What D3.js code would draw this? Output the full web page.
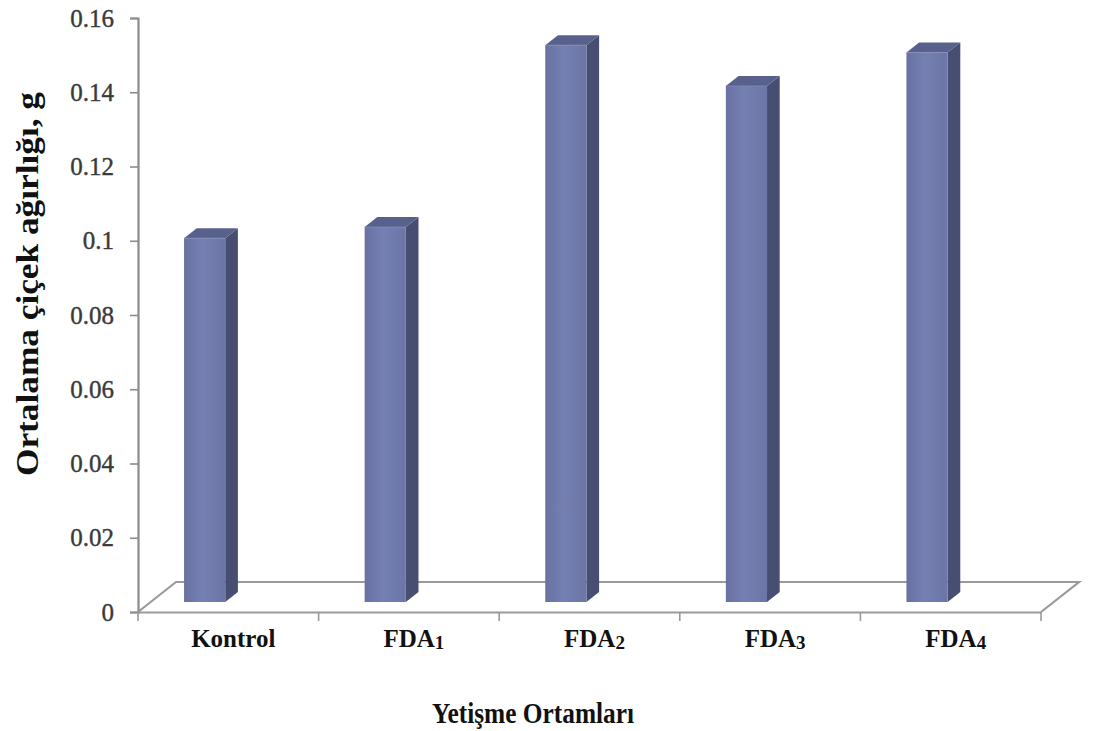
<!DOCTYPE html>
<html>
<head>
<meta charset="utf-8">
<script src="https://cdn.jsdelivr.net/npm/d3@7"></script>
<style>
  html, body { margin: 0; padding: 0; background: #ffffff; }
  svg { display: block; }
</style>
</head>
<body>
<svg id="chart" width="1110" height="731"></svg>
<script>
// Growing media (categories), with optional subscript part
const categoryNames = ["Kontrol", "FDA", "FDA", "FDA", "FDA"];
const categorySubs = ["", "1", "2", "3", "4"];
const categoryKeys = ["Kontrol", "FDA1", "FDA2", "FDA3", "FDA4"];
// Mean flower weight, g
const flowerWeight = [0.098, 0.101, 0.150, 0.139, 0.148];
// Value axis ticks
const yTicks = [0, 0.02, 0.04, 0.06, 0.08, 0.1, 0.12, 0.14, 0.16];
const yTickLabels = ["0", "0.02", "0.04", "0.06", "0.08", "0.1", "0.12", "0.14", "0.16"];

const yTitle = "Ortalama çiçek ağırlığı, g";
const xTitle = "Yetişme Ortamları";

const svg = d3.select("#chart");

// Front plane of the plot and the depth of the 3-D floor
const plot = { left: 138, right: 1041, top: 18, bottom: 612 };
const depth = { dx: 38, dy: -30 };

const x = d3.scaleBand().domain(categoryKeys).range([plot.left, plot.right]).padding(0);
const y = d3.scaleLinear().domain([0, 0.16]).range([plot.bottom, plot.top]);

const defs = svg.append("defs");
const grad = defs.append("linearGradient").attr("id", "frontFace")
  .attr("x1", "0%").attr("x2", "100%").attr("y1", "0%").attr("y2", "0%");
grad.append("stop").attr("offset", "0%").attr("stop-color", "#6871a2");
grad.append("stop").attr("offset", "45%").attr("stop-color", "#7580b2");
grad.append("stop").attr("offset", "100%").attr("stop-color", "#6b76a6");

const lineColor = "#9a9a9a";
const serif = "'Liberation Serif', 'Times New Roman', serif";

// Floor of the 3-D plot
const floor = svg.append("g").attr("class", "floor")
  .attr("fill", "none").attr("stroke", lineColor).attr("stroke-width", 2.2);
floor.append("path").attr("d", d3.line()([
  [plot.left, y(0)],
  [plot.left + depth.dx, y(0) + depth.dy],
  [plot.right + depth.dx, y(0) + depth.dy],
  [plot.right, y(0)]
]));

// Value axis (vertical line with ticks on the left)
const yAxis = d3.axisLeft(y).tickValues(yTicks)
  .tickFormat((d, i) => yTickLabels[i]).tickSize(8).tickPadding(16);
const gy = svg.append("g").attr("transform", `translate(${plot.left},0)`).call(yAxis);
gy.select(".domain").attr("stroke", "#8c8c8c").attr("stroke-width", 2.2);
gy.selectAll(".tick line").attr("stroke", "#8c8c8c").attr("stroke-width", 1.6);
gy.selectAll(".tick text")
  .attr("font-family", serif)
  .attr("font-size", 25).attr("fill", "#3a3a3a")
  .attr("stroke", "#3a3a3a").attr("stroke-width", 0.4);

// Category axis along the front edge of the floor
const xAxis = d3.axisBottom(x).tickSize(0).tickFormat("");
const gx = svg.append("g").attr("transform", `translate(0,${y(0)})`).call(xAxis);
gx.select(".domain").attr("stroke", lineColor).attr("stroke-width", 2.2);
const boundaries = categoryKeys.map(k => x(k)).concat([x.range()[1]]);
gx.selectAll(".bound").data(boundaries).join("line")
  .attr("class", "bound")
  .attr("x1", d => d).attr("x2", d => d)
  .attr("y1", 0).attr("y2", 9)
  .attr("stroke", lineColor).attr("stroke-width", 1.6);

// 3-D columns, placed in the middle third of the floor depth
const bw = x.bandwidth();
const barW = bw * 0.228;
const barOff = bw * 0.255;
const fx = depth.dx / 3, fy = depth.dy / 3;

const bars = svg.append("g").attr("class", "bars")
  .selectAll("g").data(categoryKeys.map((k, i) => ({ key: k, value: flowerWeight[i] })))
  .join("g");

bars.each(function (d) {
  const g = d3.select(this);
  const x0 = x(d.key) + barOff;
  const x1 = x0 + barW;
  const yb = y(0) + fy;
  const yt = y(d.value) + fy;
  // side face
  g.append("path").attr("fill", "#474e72")
    .attr("d", d3.line()([[x1, yb], [x1, yt], [x1 + fx, yt + fy], [x1 + fx, yb + fy]]) + "Z");
  // top face
  g.append("path").attr("fill", "#58608c")
    .attr("d", d3.line()([[x0, yt], [x0 + fx, yt + fy], [x1 + fx, yt + fy], [x1, yt]]) + "Z");
  // front face
  g.append("rect").attr("x", x0).attr("y", yt).attr("width", barW).attr("height", yb - yt)
    .attr("fill", "url(#frontFace)");
  g.append("line").attr("x1", x0).attr("x2", x1).attr("y1", yt).attr("y2", yt)
    .attr("stroke", "#8690bd").attr("stroke-width", 1).attr("opacity", 0.7);
});

// Category labels with subscripts
const labels = svg.append("g").selectAll("text").data(categoryKeys).join("text")
  .attr("x", d => x(d) + bw / 2 + 5)
  .attr("y", 647)
  .attr("text-anchor", "middle")
  .attr("font-family", serif).attr("font-weight", "bold")
  .attr("font-size", 25).attr("fill", "#111");
labels.each(function (d, i) {
  const t = d3.select(this);
  t.append("tspan").text(categoryNames[i]);
  if (categorySubs[i]) {
    t.append("tspan").attr("font-size", 19).attr("dy", 2).text(categorySubs[i]);
  }
});

// Axis titles
svg.append("text")
  .attr("x", 533).attr("y", 723)
  .attr("text-anchor", "middle")
  .attr("font-family", serif).attr("font-weight", "bold")
  .attr("font-size", 30).attr("fill", "#111")
  .attr("textLength", 202).attr("lengthAdjust", "spacingAndGlyphs")
  .text(xTitle);

svg.append("text")
  .attr("transform", "translate(38,284) rotate(-90)")
  .attr("text-anchor", "middle")
  .attr("font-family", serif).attr("font-weight", "bold")
  .attr("font-size", 31).attr("fill", "#111")
  .attr("textLength", 384).attr("lengthAdjust", "spacingAndGlyphs")
  .text(yTitle);
</script>
</body>
</html>
